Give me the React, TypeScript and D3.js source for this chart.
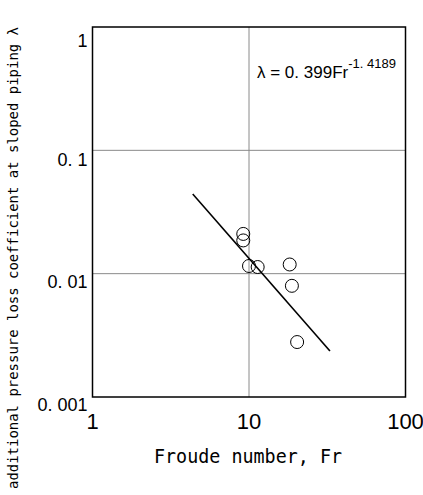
import * as d3 from "d3";
import { useEffect, useRef } from "react";

// measured points (Froude number vs. additional loss coefficient)
const froude = [9.19, 9.19, 10.0, 11.36, 18.2, 18.8, 20.3];
const lambda = [0.021, 0.0186, 0.01154, 0.01132, 0.01187, 0.00797, 0.00279];

// fitted line, drawn between these two ends
const fitFroude = [4.37, 32.9];
const fitLambda = [0.0443, 0.00236];

const xTicks = [1, 10, 100];
const xTickLabels = ["1", "10", "100"];
const yTicks = [1, 0.1, 0.01, 0.001];
const yTickLabels = ["1", "0. 1", "0. 01", "0. 001"];
const xGrid = [10];
const yGrid = [0.1, 0.01];

export default function App() {
  const svgRef = useRef<SVGSVGElement>(null);

  useEffect(() => {
    if (!svgRef.current) return;
    const width = 423;
    const height = 495;
    const margin = { left: 92.5, right: 17.5, top: 27, bottom: 98 };

    const svg = d3.select<SVGSVGElement, unknown>(svgRef.current);
    svg.selectAll("*").remove();
    svg.attr("width", width).attr("height", height);

    svg.append("rect").attr("width", width).attr("height", height).attr("fill", "#fff");

    const x = d3.scaleLog().domain([1, 100]).range([margin.left, width - margin.right]);
    const y = d3.scaleLog().domain([0.001, 1]).range([height - margin.bottom, margin.top]);

    // grid
    svg
      .selectAll("line.gx")
      .data(xGrid)
      .enter()
      .append("line")
      .attr("x1", (d) => x(d))
      .attr("x2", (d) => x(d))
      .attr("y1", y(1))
      .attr("y2", y(0.001))
      .attr("stroke", "#8a8a8a")
      .attr("stroke-width", 1);

    svg
      .selectAll("line.gy")
      .data(yGrid)
      .enter()
      .append("line")
      .attr("x1", x(1))
      .attr("x2", x(100))
      .attr("y1", (d) => y(d))
      .attr("y2", (d) => y(d))
      .attr("stroke", "#8a8a8a")
      .attr("stroke-width", 1);

    // frame
    svg
      .append("rect")
      .attr("x", x(1))
      .attr("y", y(1))
      .attr("width", x(100) - x(1))
      .attr("height", y(0.001) - y(1))
      .attr("fill", "none")
      .attr("stroke", "#000")
      .attr("stroke-width", 1.5);

    // tick labels
    svg
      .selectAll("text.xt")
      .data(xTicks)
      .enter()
      .append("text")
      .attr("x", (d) => x(d))
      .attr("y", y(0.001) + 32)
      .attr("text-anchor", "middle")
      .attr("font-family", "Liberation Sans, sans-serif")
      .attr("font-size", 22)
      .text((_, i) => xTickLabels[i]);

    const yOffsets = [20, 16, 14, 14];
    svg
      .selectAll("text.yt")
      .data(yTicks)
      .enter()
      .append("text")
      .attr("x", x(1) - 5)
      .attr("y", (d, i) => y(d) + yOffsets[i])
      .attr("text-anchor", "end")
      .attr("font-family", "Liberation Sans, sans-serif")
      .attr("font-size", 18)
      .text((_, i) => yTickLabels[i]);

    // fitted line
    const line = d3
      .line<number>()
      .x((d) => x(d))
      .y((_, i) => y(fitLambda[i]));
    svg
      .append("path")
      .attr("d", line(fitFroude))
      .attr("fill", "none")
      .attr("stroke", "#000")
      .attr("stroke-width", 1.6);

    // data points
    svg
      .selectAll("circle")
      .data(froude)
      .enter()
      .append("circle")
      .attr("cx", (d) => x(d))
      .attr("cy", (_, i) => y(lambda[i]))
      .attr("r", 6.5)
      .attr("fill", "none")
      .attr("stroke", "#000")
      .attr("stroke-width", 1);

    // equation
    const eq = svg
      .append("text")
      .attr("x", 257)
      .attr("y", 78)
      .attr("font-family", "Liberation Sans, sans-serif")
      .attr("font-size", 17);
    eq.append("tspan").text("\u03bb = 0. 399Fr");
    eq.append("tspan").attr("dy", -10).attr("font-size", 13).text("-1. 4189");

    // axis titles
    svg
      .append("text")
      .attr("x", 248)
      .attr("y", 463)
      .attr("text-anchor", "middle")
      .attr("font-family", "DejaVu Sans Mono, monospace")
      .attr("font-size", 19)
      .attr("textLength", 188)
      .attr("lengthAdjust", "spacingAndGlyphs")
      .text("Froude number, Fr");

    svg
      .append("text")
      .attr("transform", "translate(18,258) rotate(-90)")
      .attr("text-anchor", "middle")
      .attr("font-family", "DejaVu Sans Mono, monospace")
      .attr("font-size", 14)
      .attr("textLength", 462)
      .attr("lengthAdjust", "spacingAndGlyphs")
      .text("additional pressure loss coefficient at sloped piping \u03bb");
  }, []);

  return <svg ref={svgRef} style={{ position: "absolute", left: 0, top: 0 }}></svg>;
}
